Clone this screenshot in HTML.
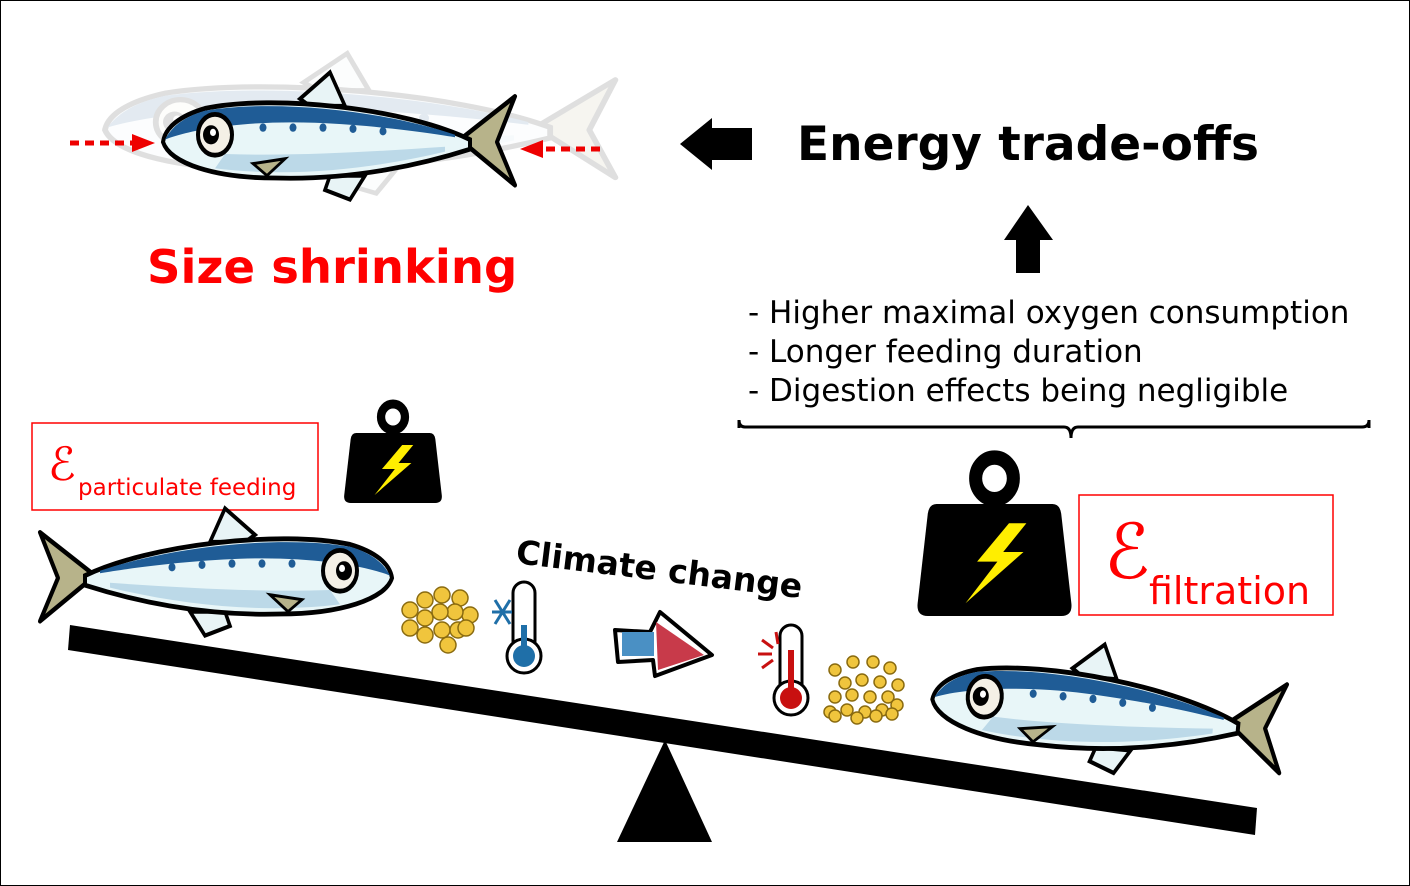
<!DOCTYPE html>
<html><head><meta charset="utf-8"><style>
html,body{margin:0;padding:0;background:#fff}
svg{display:block}
text{font-family:"DejaVu Sans","Liberation Sans",sans-serif}
</style></head><body>
<svg width="1410" height="886" viewBox="0 0 1410 886" xmlns="http://www.w3.org/2000/svg">
<defs>
<g id="fish0">
  <path d="M0,-38 L55,-2 L0,36 L18,0 Z" fill="#b7b38a" stroke="#000" stroke-width="4" stroke-linejoin="round"/>
  <path d="M170,-30 L185,-58 L215,-36 L205,-30 Z" fill="#e8f4f6" stroke="#000" stroke-width="3.5"/>
  <path d="M150,28 L165,48 L190,40 L185,28 Z" fill="#e8f4f6" stroke="#000" stroke-width="3.5"/>
  <path d="M45,-2 C110,-28 240,-40 310,-28 C335,-22 350,-12 352,0 C345,18 300,30 240,30 C160,32 90,18 45,6 Z" fill="#e8f6f8" stroke="#000" stroke-width="4"/>
  <path d="M60,-6 C130,-26 240,-36 310,-26 C335,-20 345,-10 350,-2 C320,-12 260,-18 200,-16 C140,-14 90,-8 60,-4 Z" fill="#1f5c96"/>
  <path d="M70,4 C140,8 220,12 290,10 L300,22 C220,30 140,22 70,8 Z" fill="#bcd9e8"/>
  <g fill="#1f5c96"><circle cx="132" cy="-9" r="3.5"/><circle cx="162" cy="-11" r="3.5"/><circle cx="192" cy="-12" r="3.5"/><circle cx="222" cy="-12" r="3.5"/><circle cx="252" cy="-12" r="3.5"/></g>
  <circle cx="300" cy="-6" r="17" fill="#f4f0e6" stroke="#000" stroke-width="4"/>
  <circle cx="304" cy="-6" r="8" fill="#000"/><circle cx="302" cy="-8" r="3" fill="#fff"/>
  <path d="M230,14 L262,18 L248,28 Z" fill="#b7b38a" stroke="#000" stroke-width="2.5"/>
</g>
<g id="fish"><use href="#fish0" transform="scale(1,1.2)"/></g>
<g id="weight">
  <circle cx="50" cy="14" r="13" fill="none" stroke="#000" stroke-width="9"/>
  <path d="M10,30 L90,30 Q95,30 96,36 L103,92 Q104,100 96,100 L4,100 Q-4,100 -3,92 L4,36 Q5,30 10,30 Z" fill="#000"/>
  <path d="M60,42 L38,66 L52,66 L30,92 L70,60 L56,60 L72,42 Z" fill="#ffee00"/>
</g>
</defs>

<rect x="0.5" y="0.5" width="1409" height="885" fill="#fff" stroke="#000" stroke-width="1"/>

<g opacity="0.12" transform="translate(105,130) scale(1.45,1.1)"><use href="#fish" transform="scale(-1,1) translate(-352,0)"/></g>
<g transform="translate(515,142) scale(-1,1)"><use href="#fish"/></g>
<line x1="70" y1="143" x2="135" y2="143" stroke="#e00" stroke-width="5" stroke-dasharray="9,6"/>
<path d="M132,134 L155,143 L132,152 Z" fill="#e00"/>
<line x1="600" y1="149" x2="540" y2="149" stroke="#e00" stroke-width="5" stroke-dasharray="9,6"/>
<path d="M543,140 L520,149 L543,158 Z" fill="#e00"/>

<text x="147" y="283" font-size="46.5" font-weight="bold" fill="#f00">Size shrinking</text>
<text x="797" y="160" font-size="47" font-weight="bold" fill="#000">Energy trade-offs</text>
<path d="M752,128 L712,128 L712,118 L680,144 L712,170 L712,160 L752,160 Z" fill="#000"/>
<path d="M1016,273 L1016,240 L1004,240 L1028,205 L1053,240 L1040,240 L1040,273 Z" fill="#000"/>

<g font-size="31" fill="#000">
<text x="748" y="323">- Higher maximal oxygen consumption</text>
<text x="748" y="362">- Longer feeding duration</text>
<text x="748" y="401">- Digestion effects being negligible</text>
</g>
<path d="M739,428 L739,420 Q739,427 745,427 L1064,427 Q1071,427 1071,438 Q1071,427 1078,427 L1362,427 Q1369,427 1369,420 L1369,428" fill="none" stroke="#000" stroke-width="3"/>

<rect x="32" y="423" width="286" height="87" fill="none" stroke="#f00" stroke-width="1.5"/>
<text x="48" y="480" font-family="Liberation Serif,serif" font-style="italic" font-size="46" fill="#f00">ℰ</text>
<text x="78" y="495" font-size="23" fill="#f00">particulate feeding</text>
<rect x="1079" y="495" width="254" height="120" fill="none" stroke="#f00" stroke-width="1.5"/>
<text x="1104" y="578" font-family="Liberation Serif,serif" font-style="italic" font-size="76" fill="#f00">ℰ</text>
<text x="1149" y="604" font-size="38" fill="#f00">filtration</text>

<g transform="translate(347,403) scale(0.92,1)"><use href="#weight"/></g>
<g transform="translate(922,456) scale(1.45,1.6)"><use href="#weight"/></g>

<polygon points="70,625 1257,808 1255,835 68,650" fill="#000"/>
<polygon points="665,740 712,842 617,842" fill="#000"/>

<g transform="translate(40,578)"><use href="#fish"/></g>
<g transform="translate(1283,730) rotate(5) scale(-1,1)"><use href="#fish"/></g>

<text x="515" y="563" font-size="33" font-weight="bold" transform="rotate(7 515 563)">Climate change</text>

<g fill="#f0c53d" stroke="#8a6b10" stroke-width="1.5">
<circle cx="410" cy="610" r="8"/><circle cx="425" cy="600" r="8"/><circle cx="442" cy="595" r="8"/><circle cx="460" cy="598" r="8"/><circle cx="470" cy="615" r="8"/><circle cx="455" cy="612" r="8"/><circle cx="440" cy="612" r="8"/><circle cx="425" cy="618" r="8"/><circle cx="410" cy="628" r="8"/><circle cx="425" cy="635" r="8"/><circle cx="442" cy="630" r="8"/><circle cx="458" cy="630" r="8"/><circle cx="448" cy="645" r="8"/><circle cx="466" cy="628" r="8"/>
</g>
<rect x="513" y="582" width="22" height="70" rx="11" fill="#fff" stroke="#000" stroke-width="3"/>
<circle cx="524" cy="656" r="17" fill="#fff" stroke="#000" stroke-width="3"/>
<circle cx="524" cy="656" r="11" fill="#1f6fa8"/><rect x="521" y="625" width="6" height="30" fill="#1f6fa8"/>
<g stroke="#1f6fa8" stroke-width="3"><line x1="492" y1="612" x2="512" y2="612"/><line x1="495" y1="600" x2="510" y2="624"/><line x1="495" y1="624" x2="510" y2="600"/></g>
<path d="M615,630 L650,632 L660,612 L712,655 L655,676 L653,660 L618,662 Z" fill="#fff" stroke="#000" stroke-width="4" stroke-linejoin="round"/>
<rect x="622" y="632" width="32" height="24" fill="#4a90c4"/>
<path d="M656,622 L704,655 L658,670 Z" fill="#c83a4a"/>
<rect x="780" y="625" width="22" height="70" rx="11" fill="#fff" stroke="#000" stroke-width="3"/>
<circle cx="791" cy="698" r="17" fill="#fff" stroke="#000" stroke-width="3"/>
<circle cx="791" cy="698" r="11" fill="#c81010"/><rect x="788" y="650" width="6" height="45" fill="#c81010"/>
<g stroke="#c81010" stroke-width="3"><line x1="758" y1="654" x2="772" y2="654"/><line x1="762" y1="640" x2="773" y2="648"/><line x1="762" y1="668" x2="773" y2="660"/><line x1="776" y1="632" x2="778" y2="644"/></g>
<g fill="#f0c53d" stroke="#8a6b10" stroke-width="1.5">
<circle cx="835" cy="670" r="6"/><circle cx="853" cy="662" r="6"/><circle cx="873" cy="662" r="6"/><circle cx="890" cy="668" r="6"/><circle cx="845" cy="683" r="6"/><circle cx="862" cy="680" r="6"/><circle cx="880" cy="682" r="6"/><circle cx="898" cy="685" r="6"/><circle cx="835" cy="697" r="6"/><circle cx="852" cy="695" r="6"/><circle cx="870" cy="697" r="6"/><circle cx="888" cy="697" r="6"/><circle cx="830" cy="712" r="6"/><circle cx="847" cy="710" r="6"/><circle cx="865" cy="712" r="6"/><circle cx="882" cy="710" r="6"/><circle cx="897" cy="705" r="6"/><circle cx="835" cy="716" r="6"/><circle cx="857" cy="718" r="6"/><circle cx="876" cy="716" r="6"/><circle cx="892" cy="714" r="6"/>
</g>
</svg>
</body></html>
